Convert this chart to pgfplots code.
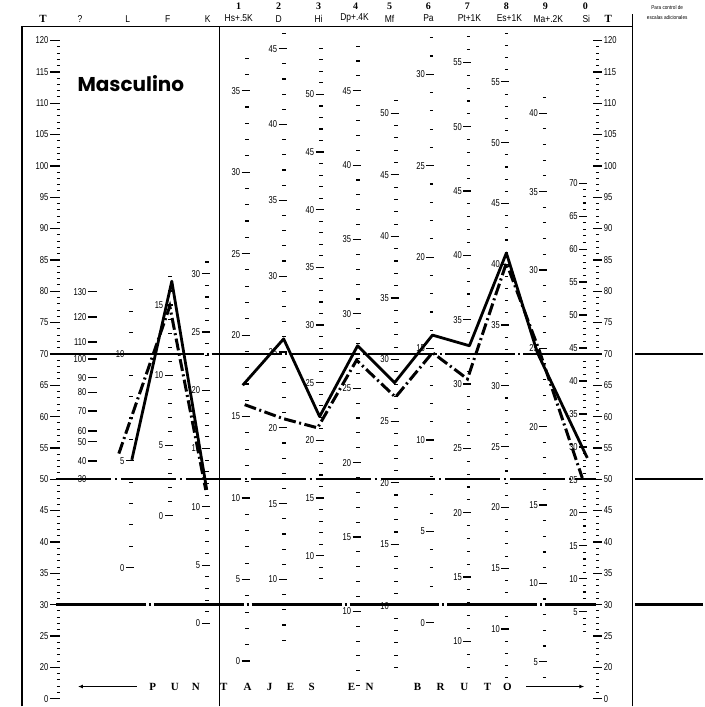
\documentclass[border=0pt]{standalone}
\usepackage{fontspec}
\setmainfont{Liberation Sans}
\newfontfamily\numfont[FakeStretch=0.76]{Liberation Sans}
\newfontfamily\namefont[FakeStretch=0.85]{Liberation Sans}
\newfontfamily\slabfont{Liberation Serif}
\newfontfamily\geofont{Poppins}
\usepackage{pgfplots}
\pgfplotsset{compat=1.18}
\usetikzlibrary{arrows.meta}

\newcommand\nf{\numfont\fontsize{10}{10}\selectfont}
% minor marks of a raw-score column: x, T at raw 0, T per raw point, first, last
\newcommand\rawcol[5]{\pgfplotsinvokeforeach{#4,...,#5}{%
  \draw[line width=1.1pt] (axis cs:#1-3.5,{#2+#3*##1}) -- (axis cs:#1,{#2+#3*##1});}}
% labelled marks: x, T at raw 0, T per raw point, list
\newcommand\rawlab[4]{\pgfplotsinvokeforeach{#4}{%
  \draw[line width=1.2pt] (axis cs:#1-7,{#2+#3*##1}) -- (axis cs:#1+1,{#2+#3*##1})
    node[pos=0,anchor=east,inner sep=1pt,font=\nf]{##1};}}
\newcommand\qlab[2]{\draw[line width=1.2pt] (axis cs:88,#2) -- (axis cs:97,#2)
    node[pos=0,anchor=east,inner sep=1pt,font=\nf]{#1};}
\newcommand\hd{\slabfont\bfseries\fontsize{10}{10}\selectfont}
\newcommand\nm{\namefont\fontsize{10}{10}\selectfont}
\newcommand\pb{\slabfont\bfseries\fontsize{11}{11}\selectfont}

\begin{document}
\begin{tikzpicture}
\begin{axis}[
  width=704pt, height=707pt, scale only axis,
  xmin=0, xmax=704, ymin=13.75, ymax=126.42,
  axis line style={draw=none}, xtick=\empty, ytick=\empty,
  clip=false,
]
% frame
\addplot[black, line width=1.1pt] coordinates {(22,13.75) (22,122.27)};
\addplot[black, line width=1.1pt] coordinates {(220,13.75) (220,122.27)};
\addplot[black, line width=1.1pt] coordinates {(633,13.75) (633,124.2)};
\addplot[black, line width=1.2pt] coordinates {(22,122.27) (633,122.27)};

% T = 70, 50, 30
\addplot[black, line width=2.3pt, dash pattern=on 70pt off 3pt on 2pt off 3pt] coordinates {(56,70) (597,70)};
\addplot[black, line width=2.3pt, dash pattern=on 55pt off 4pt on 2pt off 4pt] coordinates {(56,50) (597,50)};
\addplot[black, line width=2.3pt, dash pattern=on 90pt off 3pt on 2pt off 3pt] coordinates {(56,30) (597,30)};
\addplot[black, line width=2.3pt] coordinates {(636,70) (704,70)};
\addplot[black, line width=2.3pt] coordinates {(636,50) (704,50)};
\addplot[black, line width=2.3pt] coordinates {(636,30) (704,30)};

% T scales
\pgfplotsinvokeforeach{15,...,120}{\draw[line width=1pt] (axis cs:57,#1) -- (axis cs:60,#1);}
\pgfplotsinvokeforeach{20,25,...,120}{\draw[line width=1.3pt] (axis cs:50,#1) -- (axis cs:60,#1)
  node[pos=0,anchor=east,inner sep=1pt,font=\nf]{#1};}
\draw[line width=1.3pt] (axis cs:50,15) -- (axis cs:60,15) node[pos=0,anchor=east,inner sep=1pt,font=\nf]{0};
\pgfplotsinvokeforeach{15,...,120}{\draw[line width=1pt] (axis cs:597,#1) -- (axis cs:600,#1);}
\pgfplotsinvokeforeach{20,25,...,120}{\draw[line width=1.3pt] (axis cs:594,#1) -- (axis cs:603,#1)
  node[pos=1,anchor=west,inner sep=1pt,font=\nf]{#1};}
\draw[line width=1.3pt] (axis cs:594,15) -- (axis cs:603,15) node[pos=1,anchor=west,inner sep=1pt,font=\nf]{0};

% raw-score scales
\qlab{130}{79.9}\qlab{120}{75.9}\qlab{110}{71.9}\qlab{100}{69.2}\qlab{90}{66.2}
\qlab{80}{63.9}\qlab{70}{60.9}\qlab{60}{57.7}\qlab{50}{56}\qlab{40}{52.9}\qlab{30}{50}
\rawcol{133}{35.9}{3.41}{0}{13}   \rawlab{133}{35.9}{3.41}{0,5,10}
\rawcol{172}{44.2}{2.24}{0}{17}   \rawlab{172}{44.2}{2.24}{0,5,10,15}
\rawcol{209}{27}{1.86}{0}{31}     \rawlab{209}{27}{1.86}{0,5,...,30}
\rawcol{249}{21}{2.6}{0}{37}      \rawlab{249}{21}{2.6}{0,5,...,35}
\rawcol{286}{9.8}{2.42}{6}{46}    \rawlab{286}{9.8}{2.42}{10,15,...,45}
\rawcol{323}{19.4}{1.84}{8}{54}   \rawlab{323}{19.4}{1.84}{10,15,...,50}
\rawcol{360}{5.2}{2.373}{5}{48}   \rawlab{360}{5.2}{2.373}{10,15,...,45}
\rawcol{398}{10.15}{1.965}{5}{51} \rawlab{398}{10.15}{1.965}{10,15,...,50}
\rawcol{434}{27.1}{2.917}{0}{32}  \rawlab{434}{27.1}{2.917}{0,5,...,30}
\rawcol{471}{3.6}{2.053}{8}{57}   \rawlab{471}{3.6}{2.053}{10,15,...,55}
\rawcol{509}{6.7}{1.94}{5}{59}    \rawlab{509}{6.7}{1.94}{10,15,...,55}
\rawcol{547}{8.4}{2.5}{4}{41}     \rawlab{547}{8.4}{2.5}{5,10,...,40}
\rawcol{587}{23.6}{1.052}{2}{70}  \rawlab{587}{23.6}{1.052}{5,10,...,70}

% profiles
\addplot[black, line width=2.8pt, line join=round] coordinates {(132,53.1) (172,81.6) (207,48.3)};
\addplot[black, line width=2.8pt, line join=round] coordinates {
  (243,65) (284,72.4) (320,60) (358,71.3) (395,65.4) (433,73)
  (470,71.3) (507,86.1) (538,70.2) (588,53.4)};
\addplot[black, line width=3pt, dash pattern=on 12pt off 3.5pt on 2pt off 3.5pt] coordinates {(119,54.1) (170,77.6) (206,48.3)};
\addplot[black, line width=3pt, dash pattern=on 12pt off 3.5pt on 2pt off 3.5pt] coordinates {
  (245,61.9) (283,59.7) (318,58.2) (357,69) (396,63.1) (433,70.2)
  (468,66) (507,84.5) (540,70.5) (583,50.2)};

% header
\node[font=\hd] at (axis cs:239,125.4) {1};
\node[font=\hd] at (axis cs:279,125.4) {2};
\node[font=\hd] at (axis cs:319,125.4) {3};
\node[font=\hd] at (axis cs:356,125.4) {4};
\node[font=\hd] at (axis cs:390,125.4) {5};
\node[font=\hd] at (axis cs:429,125.4) {6};
\node[font=\hd] at (axis cs:468,125.4) {7};
\node[font=\hd] at (axis cs:507,125.4) {8};
\node[font=\hd] at (axis cs:546,125.4) {9};
\node[font=\hd] at (axis cs:586,125.4) {0};
\node[font=\slabfont\bfseries\fontsize{11}{11}\selectfont] at (axis cs:43,123.5) {T};
\node[font=\slabfont\bfseries\fontsize{11}{11}\selectfont] at (axis cs:609,123.5) {T};
\node[font=\nm] at (axis cs:80,123.5) {?};
\node[font=\nm] at (axis cs:128,123.5) {L};
\node[font=\nm] at (axis cs:168,123.5) {F};
\node[font=\nm] at (axis cs:208,123.5) {K};
\node[font=\nm] at (axis cs:239,123.5) {Hs+.5K};
\node[font=\nm] at (axis cs:279,123.5) {D};
\node[font=\nm] at (axis cs:319,123.5) {Hi};
\node[font=\nm] at (axis cs:355,123.5) {Dp+.4K};
\node[font=\nm] at (axis cs:390,123.5) {Mf};
\node[font=\nm] at (axis cs:429,123.5) {Pa};
\node[font=\nm] at (axis cs:470,123.5) {Pt+1K};
\node[font=\nm] at (axis cs:510,123.5) {Es+1K};
\node[font=\nm] at (axis cs:549,123.5) {Ma+.2K};
\node[font=\nm] at (axis cs:587,123.5) {Si};
\node[font=\namefont\fontsize{5.5}{6}\selectfont] at (axis cs:668,125.2) {Para control de};
\node[font=\namefont\fontsize{5.5}{6}\selectfont] at (axis cs:668,123.7) {escalas adicionales};

\node[font=\geofont\bfseries\fontsize{20}{20}\selectfont] at (axis cs:131,113.2) {Masculino};

% bottom legend
\draw[line width=1.4pt, -{Latex[length=5pt,width=4pt]}] (axis cs:137,16.93) -- (axis cs:78,16.93);
\draw[line width=1.4pt, -{Latex[length=5pt,width=4pt]}] (axis cs:527,16.93) -- (axis cs:585,16.93);
\node[font=\pb] at (axis cs:153,16.93) {P};
\node[font=\pb] at (axis cs:175,16.93) {U};
\node[font=\pb] at (axis cs:196,16.93) {N};
\node[font=\pb] at (axis cs:224,16.93) {T};
\node[font=\pb] at (axis cs:248,16.93) {A};
\node[font=\pb] at (axis cs:270,16.93) {J};
\node[font=\pb] at (axis cs:291,16.93) {E};
\node[font=\pb] at (axis cs:312,16.93) {S};
\node[font=\pb] at (axis cs:352,16.93) {E};
\node[font=\pb] at (axis cs:370,16.93) {N};
\node[font=\pb] at (axis cs:418,16.93) {B};
\node[font=\pb] at (axis cs:441,16.93) {R};
\node[font=\pb] at (axis cs:465,16.93) {U};
\node[font=\pb] at (axis cs:488,16.93) {T};
\node[font=\pb] at (axis cs:508,16.93) {O};
\end{axis}
\end{tikzpicture}
\end{document}
